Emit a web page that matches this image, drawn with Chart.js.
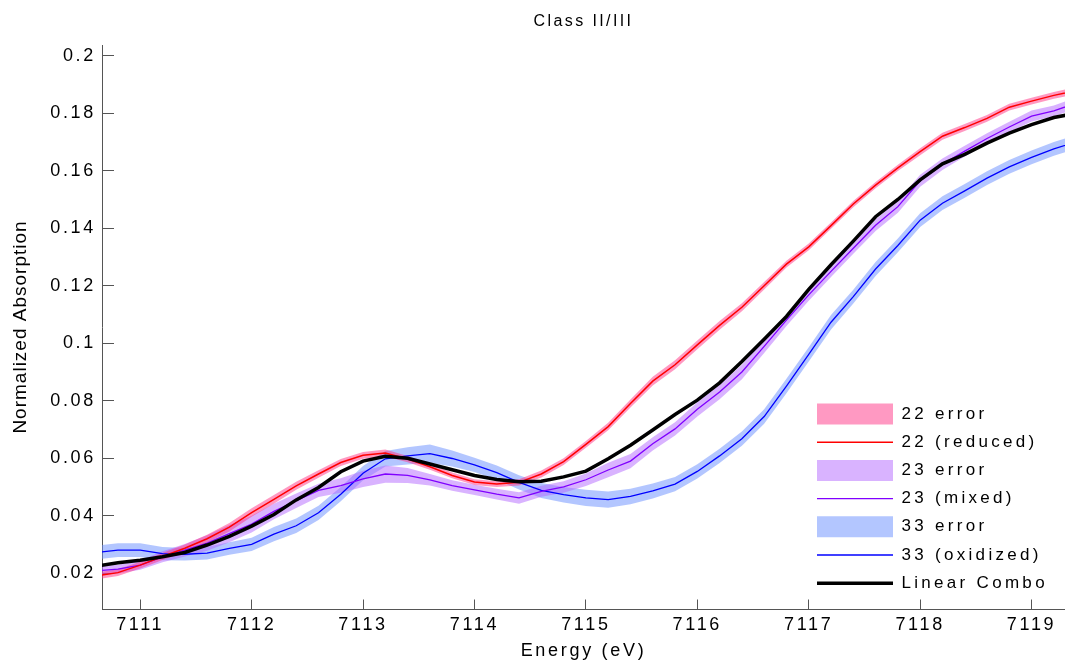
<!DOCTYPE html>
<html>
<head>
<meta charset="utf-8">
<title>Class II/III</title>
<script src="https://cdn.jsdelivr.net/npm/chart.js@4.4.1/dist/chart.umd.min.js"></script>
<style>
  html, body { margin: 0; padding: 0; background: #fff; }
  #chart { display: block; }
</style>
</head>
<body>
<canvas id="chart" width="1065" height="664"></canvas>
<script>
// Energy grid (eV)
const energy = [7110.6, 7110.8, 7111.0, 7111.2, 7111.4, 7111.6, 7111.8, 7112.0, 7112.2, 7112.4,
  7112.6, 7112.8, 7113.0, 7113.2, 7113.4, 7113.6, 7113.8, 7114.0, 7114.2, 7114.4,
  7114.6, 7114.8, 7115.0, 7115.2, 7115.4, 7115.6, 7115.8, 7116.0, 7116.2, 7116.4,
  7116.6, 7116.8, 7117.0, 7117.2, 7117.4, 7117.6, 7117.8, 7118.0, 7118.2, 7118.4,
  7118.6, 7118.8, 7119.0, 7119.2, 7119.4];

// 22 (reduced)
const reduced22 = [0.0190, 0.0202, 0.0228, 0.0258, 0.0287, 0.0320, 0.0360, 0.0411, 0.0457, 0.0504,
  0.0545, 0.0585, 0.0610, 0.0618, 0.0597, 0.0570, 0.0540, 0.0517, 0.0510, 0.0516,
  0.0545, 0.0588, 0.0648, 0.0710, 0.0790, 0.0868, 0.0925, 0.0994, 0.1062, 0.1125,
  0.1200, 0.1275, 0.1335, 0.1409, 0.1484, 0.1550, 0.1610, 0.1666, 0.1720, 0.1750,
  0.1782, 0.1821, 0.1842, 0.1862, 0.1878];
const reduced22Err = [0.0012, 0.0012, 0.0012, 0.0012, 0.0013, 0.0014, 0.0015, 0.0015, 0.0015, 0.0014,
  0.0013, 0.0012, 0.0012, 0.0012, 0.0011, 0.0010, 0.0010, 0.0010, 0.0010, 0.0011,
  0.0012, 0.0012, 0.0012, 0.0013, 0.0014, 0.0015, 0.0016, 0.0015, 0.0015, 0.0014,
  0.0013, 0.0012, 0.0012, 0.0011, 0.0011, 0.0011, 0.0011, 0.0012, 0.0012, 0.0012,
  0.0012, 0.0012, 0.0012, 0.0012, 0.0012];

// 23 (mixed)
const mixed23 = [0.0208, 0.0214, 0.0228, 0.0257, 0.0280, 0.0305, 0.0338, 0.0371, 0.0415, 0.0452,
  0.0488, 0.0505, 0.0528, 0.0545, 0.0540, 0.0525, 0.0505, 0.0490, 0.0475, 0.0462,
  0.0485, 0.0500, 0.0525, 0.0559, 0.0590, 0.0650, 0.0702, 0.0770, 0.0830, 0.0900,
  0.0989, 0.1080, 0.1168, 0.1250, 0.1330, 0.1410, 0.1475, 0.1565, 0.1622, 0.1668,
  0.1712, 0.1752, 0.1790, 0.1808, 0.1835];
const mixed23Err = [0.0015, 0.0015, 0.0016, 0.0019, 0.0022, 0.0027, 0.0030, 0.0029, 0.0027, 0.0025,
  0.0023, 0.0025, 0.0028, 0.0030, 0.0026, 0.0020, 0.0018, 0.0018, 0.0019, 0.0020,
  0.0019, 0.0020, 0.0022, 0.0025, 0.0025, 0.0023, 0.0023, 0.0025, 0.0025, 0.0025,
  0.0023, 0.0020, 0.0020, 0.0020, 0.0019, 0.0020, 0.0021, 0.0021, 0.0020, 0.0019,
  0.0018, 0.0018, 0.0019, 0.0019, 0.0019];

// 33 (oxidized)
const oxidized33 = [0.0272, 0.0280, 0.0280, 0.0268, 0.0266, 0.0270, 0.0286, 0.0300, 0.0336, 0.0365,
  0.0410, 0.0475, 0.0548, 0.0598, 0.0608, 0.0616, 0.0599, 0.0577, 0.0550, 0.0516,
  0.0488, 0.0473, 0.0462, 0.0456, 0.0467, 0.0486, 0.0510, 0.0554, 0.0608, 0.0668,
  0.0745, 0.0851, 0.0961, 0.1073, 0.1162, 0.1258, 0.1340, 0.1428, 0.1487, 0.1530,
  0.1574, 0.1613, 0.1646, 0.1676, 0.1700];
const oxidized33Err = [0.0024, 0.0024, 0.0024, 0.0023, 0.0022, 0.0022, 0.0022, 0.0023, 0.0025, 0.0025,
  0.0025, 0.0025, 0.0025, 0.0027, 0.0030, 0.0032, 0.0028, 0.0025, 0.0025, 0.0025,
  0.0026, 0.0027, 0.0028, 0.0028, 0.0027, 0.0026, 0.0025, 0.0025, 0.0025, 0.0025,
  0.0025, 0.0025, 0.0025, 0.0025, 0.0024, 0.0024, 0.0024, 0.0024, 0.0024, 0.0024,
  0.0024, 0.0024, 0.0024, 0.0024, 0.0024];

// Linear Combo
const linearCombo = [0.0224, 0.0236, 0.0245, 0.0257, 0.0272, 0.0298, 0.0328, 0.0364, 0.0404, 0.0455,
  0.0498, 0.0553, 0.0590, 0.0607, 0.0600, 0.0580, 0.0560, 0.0540, 0.0526, 0.0518,
  0.0520, 0.0535, 0.0555, 0.0598, 0.0645, 0.0698, 0.0752, 0.0802, 0.0862, 0.0936,
  0.1014, 0.1093, 0.1187, 0.1273, 0.1355, 0.1440, 0.1500, 0.1568, 0.1624, 0.1657,
  0.1696, 0.1731, 0.1760, 0.1785, 0.1800];

const xTicks = [7111, 7112, 7113, 7114, 7115, 7116, 7117, 7118, 7119];
const yTicks = [0.02, 0.04, 0.06, 0.08, 0.1, 0.12, 0.14, 0.16, 0.18, 0.2];

const TITLE = 'Class II/III';
const X_TITLE = 'Energy (eV)';
const Y_TITLE = 'Normalized Absorption';

const AXIS = '#555';
const RED = '#ff0000', RED_BAND = 'rgba(255, 51, 133, 0.5)';
const PURPLE = '#8000ff', PURPLE_BAND = 'rgba(179, 103, 255, 0.5)';
const BLUE = '#0000ff', BLUE_BAND = 'rgba(103, 141, 255, 0.5)';

// MATLAB-ish wide letter spacing, keyed by font size
const SPACING = { 16: 2.4, 17: 3.3, 18: 2.7 };
const Y_TITLE_SPACING = 1;

const pts = ys => ys.map((y, i) => ({ x: energy[i], y }));

function errorBand(label, values, err, color) {
  const upper = {
    label: label + ' upper', data: pts(values.map((v, i) => v + err[i])),
    borderWidth: 0, borderColor: 'transparent', fill: false, order: 2
  };
  const lower = {
    label, data: pts(values.map((v, i) => v - err[i])),
    borderWidth: 0, borderColor: 'transparent', backgroundColor: color, fill: '-1', order: 2,
    legendColor: color, legendWidth: 21
  };
  return [upper, lower];
}

function line(label, values, color, width, order) {
  return {
    label, data: pts(values), borderColor: color, borderWidth: width, fill: false, order,
    legendColor: color, legendWidth: width
  };
}

const datasets = [
  ...errorBand('22 error', reduced22, reduced22Err, RED_BAND),
  line('22 (reduced)', reduced22, RED, 1.5, 1),
  ...errorBand('23 error', mixed23, mixed23Err, PURPLE_BAND),
  line('23 (mixed)', mixed23, PURPLE, 1.3, 1),
  ...errorBand('33 error', oxidized33, oxidized33Err, BLUE_BAND),
  line('33 (oxidized)', oxidized33, BLUE, 1.3, 1),
  line('Linear Combo', linearCombo, '#000', 3.5, 0)
];

// letter spacing on canvas text
const textSpacing = {
  id: 'textSpacing',
  beforeInit(chart) {
    const ctx = chart.ctx;
    const fillText = ctx.fillText.bind(ctx);
    ctx.fillText = (text, x, y, maxWidth) => {
      const m = ctx.font.match(/([\d.]+)px/);
      const size = m ? Math.round(parseFloat(m[1])) : 0;
      const sp = text === Y_TITLE ? Y_TITLE_SPACING : (SPACING[size] || 0);
      ctx.letterSpacing = sp + 'px';
      fillText(text, x, y, maxWidth);
    };
  }
};

// put the legend in the lower right corner of the plot area
const legendPlacer = {
  id: 'legendPlacer',
  afterLayout(chart) {
    const lg = chart.legend;
    const area = chart.chartArea;
    if (!lg) return;
    lg.left = area.right - 259.2;
    lg.right = lg.left + 259.2;
    lg.top = area.bottom - 214.7;
    lg.bottom = lg.top + 260;
  }
};

Chart.defaults.font.family = "'Liberation Sans', Arial, Helvetica, sans-serif";
Chart.defaults.color = '#000';

new Chart(document.getElementById('chart'), {
  type: 'line',
  data: { datasets },
  plugins: [textSpacing, legendPlacer],
  options: {
    responsive: false,
    animation: false,
    events: [],
    elements: { point: { radius: 0, hoverRadius: 0 }, line: { tension: 0 } },
    layout: { padding: 0 },
    plugins: {
      tooltip: { enabled: false },
      title: {
        display: true,
        text: TITLE,
        fullSize: false,
        color: '#000',
        font: { size: 16, weight: 'normal' },
        padding: { top: 12.4, bottom: 13.4 }
      },
      legend: {
        position: 'chartArea',
        align: 'start',
        labels: {
          usePointStyle: true,
          pointStyleWidth: 76,
          padding: 11.2,
          color: '#000',
          textAlign: 'left',
          font: { size: 17 },
          generateLabels(chart) {
            return chart.data.datasets.map((ds, i) => ds.legendWidth ? {
              text: ds.label,
              datasetIndex: i,
              pointStyle: 'line',
              fillStyle: ds.legendColor,
              strokeStyle: ds.legendColor,
              lineWidth: ds.legendWidth,
              lineCap: 'butt',
              hidden: !chart.isDatasetVisible(i)
            } : null).filter(Boolean);
          }
        }
      }
    },
    scales: {
      x: {
        type: 'linear',
        min: 7110.657,
        max: 7119.3,
        afterFit(scale) { scale.height = 55; scale.paddingLeft = 0; scale.paddingRight = 0; },
        afterBuildTicks(scale) { scale.ticks = xTicks.map(value => ({ value })); },
        border: { color: AXIS, width: 1 },
        grid: { drawOnChartArea: false, drawTicks: true, tickLength: -9.5, color: AXIS },
        ticks: {
          padding: 15,
          maxRotation: 0,
          autoSkip: false,
          color: '#000',
          font: { size: 18 },
          callback: v => String(v)
        },
        title: {
          display: true,
          text: X_TITLE,
          color: '#000',
          font: { size: 18 },
          padding: { top: 0, bottom: 2.2 }
        }
      },
      y: {
        type: 'linear',
        min: 0.00755,
        max: 0.20372,
        afterFit(scale) { scale.width = 102; scale.paddingTop = 0; scale.paddingBottom = 0; },
        afterBuildTicks(scale) { scale.ticks = yTicks.map(value => ({ value })); },
        border: { color: AXIS, width: 1 },
        grid: { drawOnChartArea: false, drawTicks: true, tickLength: -12, color: AXIS },
        ticks: {
          padding: 18,
          autoSkip: false,
          color: '#000',
          font: { size: 18 },
          callback: v => String(Math.round(v * 100) / 100)
        },
        title: {
          display: true,
          text: Y_TITLE,
          color: '#000',
          font: { size: 19 },
          padding: { top: 9, bottom: 0 }
        }
      }
    }
  }
});
</script>
</body>
</html>
